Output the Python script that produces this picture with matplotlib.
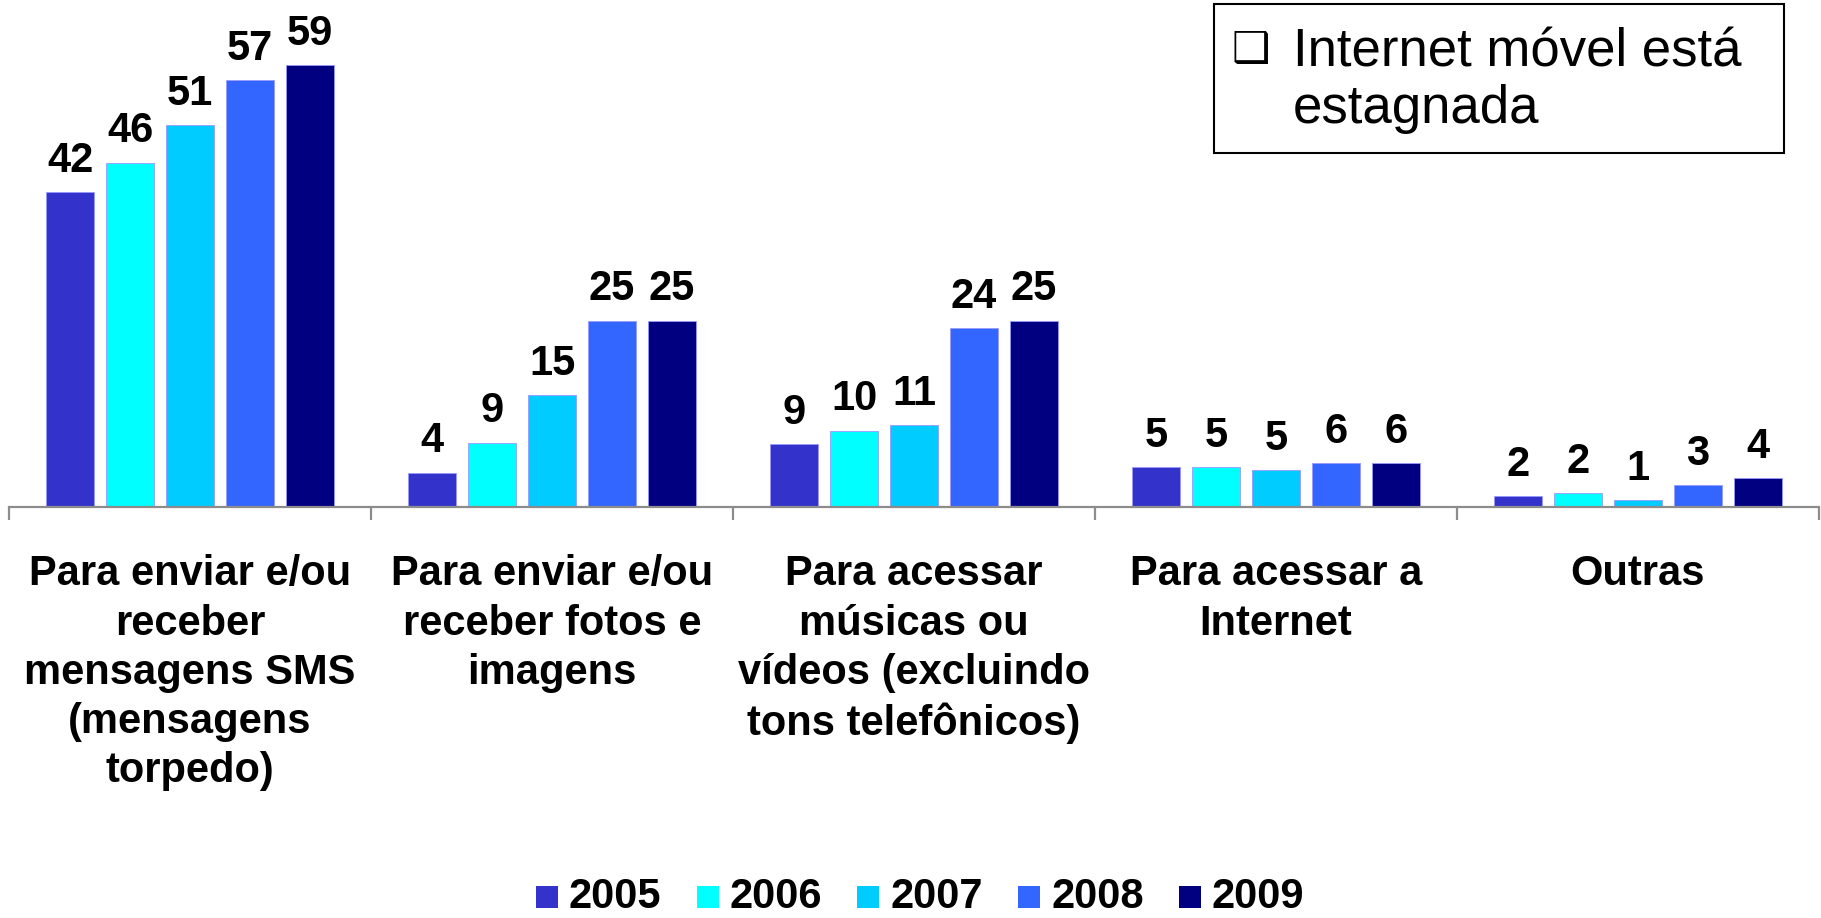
import matplotlib
matplotlib.use("Agg")
import matplotlib.pyplot as plt
from matplotlib.patches import Rectangle
import numpy as np

plt.rcParams['font.family'] = ['Liberation Sans', 'DejaVu Sans']

categorias = ["Para enviar e/ou\nreceber\nmensagens SMS\n(mensagens\ntorpedo)",
              "Para enviar e/ou\nreceber fotos e\nimagens",
              "Para acessar\nmúsicas ou\nvídeos (excluindo\ntons telefônicos)",
              "Para acessar a\nInternet",
              "Outras"]
anos = ["2005", "2006", "2007", "2008", "2009"]
cores = ["#3333CC", "#00FFFF", "#00CCFF", "#3366FF", "#000080"]

v2005 = [42.0, 4.6, 8.4, 5.3, 1.5]
v2006 = [46.0, 8.6, 10.2, 5.3, 1.9]
v2007 = [51.0, 14.9, 10.9, 4.9, 0.9]
v2008 = [57.0, 24.9, 23.9, 5.9, 2.9]
v2009 = [59.0, 24.9, 24.9, 5.9, 3.9]

# rotulos mostrados em cima das barras
r2005 = [42, 4, 9, 5, 2]
r2006 = [46, 9, 10, 5, 2]
r2007 = [51, 15, 11, 5, 1]
r2008 = [57, 25, 24, 6, 3]
r2009 = [59, 25, 25, 6, 4]

valores = [v2005, v2006, v2007, v2008, v2009]
rotulos = [r2005, r2006, r2007, r2008, r2009]

fig = plt.figure(figsize=(18.21, 9.18), dpi=100)
ax = fig.add_axes([9/1821, 1 - 507/918, 1810/1821, 507/918])

x = np.arange(len(categorias))
passo = 60/362
larg = 48/362

for k in range(len(anos)):
    pos = x + (k - 2)*passo
    ax.bar(pos, valores[k], width=larg, color=cores[k], edgecolor='#9999FF', linewidth=0.6)
    for p, v, r in zip(pos, valores[k], rotulos[k]):
        ax.annotate(str(r), (p, v), xytext=(0, 14.5), textcoords='offset points',
                    ha='center', va='baseline', fontsize=30, fontweight='bold',
                    annotation_clip=False)

for i, c in enumerate(categorias):
    ax.annotate(c, (i, 0), xytext=(0, -34), textcoords='offset points',
                ha='center', va='top', fontsize=30, fontweight='bold',
                linespacing=1.3, annotation_clip=False)

ax.set_xlim(-0.5, 4.5)
ax.set_ylim(0, 67.7)
for s in ['top', 'right', 'left']:
    ax.spines[s].set_visible(False)
ax.spines['bottom'].set_color('#8C8C8C')
ax.spines['bottom'].set_linewidth(1.6)
ax.set_yticks([])
ax.set_xticks(np.arange(-0.5, 5, 1))
ax.set_xticklabels([])
ax.tick_params(axis='x', length=9, width=1.6, color='#8C8C8C')

# legenda de anos embaixo
W, H = 1821, 918
for k, ano in enumerate(anos):
    x0 = 536 + k*160.7
    fig.patches.append(Rectangle((x0/W, 1 - 908/H), 22/W, 22/H, transform=fig.transFigure,
                                 facecolor=cores[k], edgecolor='none'))
    fig.text((x0 + 33)/W, 1 - 908/H, ano, fontsize=30, fontweight='bold', va='baseline', ha='left')

# caixa de destaque
fig.patches.append(Rectangle((1214/W, 1 - 153/H), 570/W, 149/H, transform=fig.transFigure,
                             facecolor='white', edgecolor='black', linewidth=1.5))
fig.text(1250.5/W, 1 - 50/H, "\u2751", family='DejaVu Sans', fontsize=31, fontweight='bold',
         ha='center', va='center')
fig.text(1293/W, 1 - 66.7/H, "Internet móvel está", fontsize=38, va='baseline', ha='left')
fig.text(1293/W, 1 - 123.3/H, "estagnada", fontsize=38, va='baseline', ha='left')

fig.savefig("out.png", dpi=100)
